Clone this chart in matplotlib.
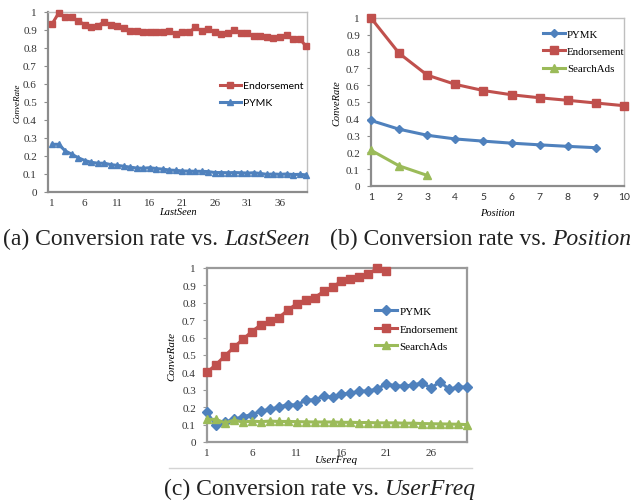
import matplotlib
matplotlib.use("Agg")
import matplotlib.pyplot as plt
from matplotlib.lines import Line2D

W, H = 631, 502
DPI = 100

RED = "#C0504D"
BLUE = "#4F81BD"
GREEN = "#9BBB59"
SERIF = "Liberation Serif"
SANS = "Lato"

# ---- (a) conversion rate vs. LastSeen ----
lastseen = list(range(1, 41))
a_endorsement = [0.935, 0.995, 0.970, 0.970, 0.950, 0.930, 0.915, 0.925, 0.945, 0.930,
                 0.920, 0.910, 0.895, 0.895, 0.888, 0.888, 0.888, 0.888, 0.892, 0.880,
                 0.887, 0.887, 0.915, 0.893, 0.903, 0.888, 0.880, 0.882, 0.900, 0.885,
                 0.882, 0.865, 0.868, 0.862, 0.858, 0.862, 0.870, 0.850, 0.852, 0.810]
a_pymk = [0.265, 0.265, 0.228, 0.210, 0.190, 0.175, 0.165, 0.160, 0.160, 0.152,
          0.148, 0.143, 0.138, 0.133, 0.132, 0.135, 0.130, 0.127, 0.122, 0.120,
          0.117, 0.116, 0.115, 0.115, 0.113, 0.108, 0.108, 0.107, 0.108, 0.107,
          0.105, 0.107, 0.103, 0.098, 0.100, 0.098, 0.100, 0.097, 0.098, 0.095]
a_xticks = [1, 6, 11, 16, 21, 26, 31, 36]

# ---- (b) conversion rate vs. Position ----
b_endorsement = [1.000, 0.790, 0.660, 0.605, 0.568, 0.543, 0.525, 0.510, 0.494, 0.478]
b_pymk = [0.390, 0.338, 0.302, 0.280, 0.267, 0.255, 0.245, 0.236, 0.228]
b_searchads = [0.213, 0.120, 0.063]
b_xticks = list(range(1, 11))

# ---- (c) conversion rate vs. UserFreq ----
c_endorsement = [0.400, 0.445, 0.495, 0.545, 0.590, 0.635, 0.673, 0.697, 0.715, 0.757,
                 0.795, 0.817, 0.830, 0.865, 0.890, 0.925, 0.937, 0.950, 0.965, 1.000,
                 0.980]
c_pymk = [0.170, 0.095, 0.115, 0.130, 0.145, 0.158, 0.177, 0.188, 0.200, 0.215,
          0.212, 0.240, 0.243, 0.262, 0.258, 0.275, 0.280, 0.292, 0.293, 0.305,
          0.335, 0.322, 0.322, 0.327, 0.340, 0.310, 0.347, 0.302, 0.317, 0.315]
c_searchads = [0.130, 0.130, 0.110, 0.125, 0.115, 0.120, 0.117, 0.120, 0.118, 0.118,
               0.117, 0.116, 0.115, 0.115, 0.115, 0.113, 0.113, 0.112, 0.112, 0.110,
               0.110, 0.110, 0.108, 0.108, 0.106, 0.105, 0.104, 0.103, 0.102, 0.100]
c_xticks = [1, 6, 11, 16, 21, 26]

yticks = [round(0.1 * i, 1) for i in range(11)]
ylabels = ["0"] + [f"{v:g}" for v in yticks[1:]]

fig = plt.figure(figsize=(W / DPI, H / DPI), dpi=DPI)
fig.patch.set_facecolor("white")


def px_axes(left, top, right, bottom):
    return fig.add_axes([left / W, 1 - bottom / H, (right - left) / W, (bottom - top) / H])


def style_axes(ax, dark="#8C8C8C", light="#BFBFBF", right_dark=False):
    for side in ("left", "bottom"):
        ax.spines[side].set_color(dark)
        ax.spines[side].set_linewidth(1.6)
    for side in ("top", "right"):
        ax.spines[side].set_color(dark if (right_dark and side == "right") else light)
        ax.spines[side].set_linewidth(1.6 if (right_dark and side == "right") else 1.0)
    ax.set_ylim(0, 1)
    ax.set_yticks(yticks)
    ax.set_yticklabels(ylabels)
    ax.tick_params(axis="y", length=3, width=0.8, color=dark, pad=5)
    ax.tick_params(axis="x", length=0, pad=4)
    for lab in ax.get_yticklabels():
        lab.set_fontfamily(SERIF)
        lab.set_fontsize(8)
        lab.set_color("#333333")


def legend_at(ax, handles, labels, x, y, family, size, spacing=0.7):
    ax.legend(handles, labels, loc="upper left",
              bbox_to_anchor=(x / W, 1 - y / H), bbox_transform=fig.transFigure,
              frameon=False, handlelength=2.0, handletextpad=0.2, labelspacing=spacing,
              borderpad=0, borderaxespad=0,
              prop={"family": family, "size": size})


# ---------- panel (a) ----------
axa = px_axes(48, 13, 307, 193)
la_end, = axa.plot(lastseen, a_endorsement, color=RED, lw=2.2, marker="s", ms=4.5,
                   clip_on=False, zorder=3)
la_pymk, = axa.plot(lastseen, a_pymk, color=BLUE, lw=2.2, marker="^", ms=4,
                    clip_on=False, zorder=3)
axa.set_xlim(0.35, 40.15)
style_axes(axa)
axa.set_xticks(a_xticks)
axa.set_xticklabels([str(t) for t in a_xticks], fontfamily=SERIF, fontsize=8, color="#333333")
axa.set_ylabel("ConveRate", fontfamily=SERIF, fontstyle="italic", fontsize=6.5, labelpad=1)
axa.set_xlabel("LastSeen", fontfamily=SERIF, fontstyle="italic", fontsize=7.5, labelpad=0)
legend_at(axa, [la_end, la_pymk], ["Endorsement", "PYMK"], 220, 82, SANS, 7.5, 0.75)

# ---------- panel (b) ----------
axb = px_axes(371, 19, 624, 187)
lb_pymk, = axb.plot(b_xticks[:len(b_pymk)], b_pymk, color=BLUE, lw=2.2, marker="D", ms=4.5,
                    clip_on=False, zorder=3)
lb_end, = axb.plot(b_xticks, b_endorsement, color=RED, lw=2.2, marker="s", ms=5.5,
                   clip_on=False, zorder=3)
lb_ads, = axb.plot(b_xticks[:len(b_searchads)], b_searchads, color=GREEN, lw=2.2, marker="^",
                   ms=6, clip_on=False, zorder=3)
axb.set_xlim(1, 10)
style_axes(axb)
axb.set_xticks(b_xticks)
axb.set_xticklabels([str(t) for t in b_xticks], fontfamily=SANS, fontsize=7.5, color="#333333")
axb.set_ylabel("ConveRate", fontfamily=SERIF, fontstyle="italic", fontsize=7.5, labelpad=3)
axb.set_xlabel("Position", fontfamily=SERIF, fontstyle="italic", fontsize=7.5, labelpad=5)
legend_at(axb, [lb_pymk, lb_end, lb_ads], ["PYMK", "Endorsement", "SearchAds"],
          543, 30, SERIF, 7.8, 0.72)

# ---------- panel (c) ----------
axc = px_axes(207, 269, 467, 443)
uf = list(range(1, 31))
lc_pymk, = axc.plot(uf, c_pymk, color=BLUE, lw=2.2, marker="D", ms=5,
                    clip_on=False, zorder=3)
lc_end, = axc.plot(uf[:len(c_endorsement)], c_endorsement, color=RED, lw=2.2, marker="s",
                   ms=5.5, clip_on=False, zorder=3)
lc_ads, = axc.plot(uf, c_searchads, color=GREEN, lw=2.2, marker="^", ms=6,
                   clip_on=False, zorder=3)
axc.set_xlim(1, 30)
style_axes(axc, dark="#9A9A9A", light="#9A9A9A", right_dark=True)
axc.spines["top"].set_linewidth(1.6)
axc.set_xticks(c_xticks)
axc.set_xticklabels([str(t) for t in c_xticks], fontfamily=SERIF, fontsize=8, color="#333333")
axc.set_ylabel("ConveRate", fontfamily=SERIF, fontstyle="italic", fontsize=8, labelpad=4)
axc.set_xlabel("UserFreq", fontfamily=SERIF, fontstyle="italic", fontsize=8, labelpad=-1)
legend_at(axc, [lc_pymk, lc_end, lc_ads], ["PYMK", "Endorsement", "SearchAds"],
          375, 307, SERIF, 8, 0.72)

# thin rule under panel (c)
fig.add_artist(Line2D([169 / W, 472 / W], [1 - 469 / H, 1 - 469 / H],
                      transform=fig.transFigure, color="#D4D4D4", lw=1))

# ---------- captions ----------
cap = dict(fontfamily=SERIF, fontsize=17, color="#222222", va="baseline")


def caption(x_px, y_px, plain, ital):
    t1 = fig.text(x_px / W, 1 - y_px / H, plain, ha="left", **cap)
    fig.canvas.draw()
    bb = t1.get_window_extent()
    fig.text(bb.x1 / W, 1 - y_px / H, ital, ha="left", fontstyle="italic", **cap)


caption(3, 245, "(a) Conversion rate vs. ", "LastSeen")
caption(330, 245, "(b) Conversion rate vs. ", "Position")
caption(164, 495, "(c) Conversion rate vs. ", "UserFreq")

fig.savefig("out.png", dpi=DPI, facecolor="white")
